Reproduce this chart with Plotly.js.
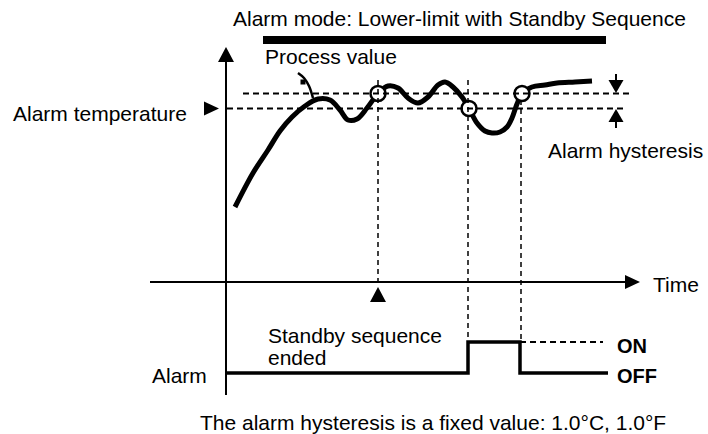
<!DOCTYPE html>
<html>
<head>
<meta charset="utf-8">
<script src="https://cdn.plot.ly/plotly-3.0.1.min.js"></script>
<style>
  html, body { margin: 0; padding: 0; background: #fff; }
  #chart { width: 708px; height: 434px; }
</style>
</head>
<body>
<div id="chart"></div>
<script>
// Process value over time (diagram units: time to the right, value upward on a flipped scale)
const pvTime  = [235, 253, 268, 280, 292, 305, 318, 330, 340, 348, 357, 367, 378, 388, 398, 408, 418, 428, 438, 445, 453, 462, 469, 477, 485, 492, 500, 507, 512, 517, 522, 532, 545, 557, 575, 592];
const pvValue = [207, 173, 150, 131, 117, 106, 99, 100, 110, 120, 119, 108, 93.5, 86, 88, 98, 103, 97, 85, 82, 87, 97, 108.5, 123, 131, 133, 132, 127, 118, 104, 93.5, 87, 85, 83, 82, 81];

// Alarm set point and hysteresis band
const alarmTemp = 108.5;
const alarmUpper = 93.5;

// Points where the process value crosses the band
const crossTime  = [378, 469, 522];
const crossValue = [93.5, 108.5, 93.5];

// Alarm output (OFF/ON levels)
const alarmTime  = [226, 468, 468, 520, 520, 608];
const alarmLevel = [373, 373, 342, 342, 373, 373];
const levelOn = 342, levelOff = 373;

// Leader line from the "Process value" label to the curve
const leaderTime  = [298, 304, 309, 313];
const leaderValue = [73, 78, 86, 98];

// Axes of the diagram
const timeAxisY = 282, valueAxisX = 226;
const standbyEnd = 378;

const FONT = '"Liberation Sans", Arial, Helvetica, sans-serif';
const INK = '#000';

function tri(cx, cy, dir, w, h) {
  let p;
  if (dir === 'up')    p = [[cx - w/2, cy + h/2], [cx + w/2, cy + h/2], [cx, cy - h/2]];
  if (dir === 'down')  p = [[cx - w/2, cy - h/2], [cx + w/2, cy - h/2], [cx, cy + h/2]];
  if (dir === 'right') p = [[cx - w/2, cy - h/2], [cx - w/2, cy + h/2], [cx + w/2, cy]];
  const d = 'M' + p.map(q => q[0] + ',' + q[1]).join('L') + 'Z';
  return { type: 'path', path: d, xref: 'x', yref: 'y', fillcolor: INK, line: { width: 0 } };
}
function seg(x0, y0, x1, y1, width, dash) {
  return { type: 'line', xref: 'x', yref: 'y', x0, y0, x1, y1,
           line: { color: INK, width, dash: dash || 'solid' } };
}

const shapes = [
  // heading bar
  { type: 'rect', xref: 'x', yref: 'y', x0: 263, x1: 606, y0: 36, y1: 44, fillcolor: INK, line: { width: 0 } },
  // value axis and arrow
  seg(valueAxisX, 395, valueAxisX, 60, 2),
  tri(valueAxisX, 54.5, 'up', 16, 15),
  // time axis and arrow
  seg(150, timeAxisY, 627, timeAxisY, 2),
  tri(632.5, timeAxisY, 'right', 15, 14),
  // hysteresis band
  seg(243, alarmUpper, 632, alarmUpper, 1.8, '6px,4px'),
  seg(227, alarmTemp, 625, alarmTemp, 1.8, '6px,4px'),
  // vertical guides
  seg(crossTime[0], 80, crossTime[0], timeAxisY, 1.5, '5px,4px'),
  seg(crossTime[1] - 1, 80, crossTime[1] - 1, levelOn, 1.5, '5px,4px'),
  seg(crossTime[2] - 1, 100, crossTime[2] - 1, levelOn, 1.5, '5px,4px'),
  // ON level continuation
  seg(520, levelOn, 603, levelOn, 1.8, '6px,4px'),
  // set-point marker and standby-end marker
  tri(211.5, alarmTemp, 'right', 15, 14),
  tri(standbyEnd, 294.5, 'up', 16, 15),
  // hysteresis dimension arrows
  seg(616, 74, 616, 86, 2),
  tri(616, 86.5, 'down', 15, 13),
  seg(616, 117, 616, 128, 2),
  tri(616, 115.5, 'up', 15, 13)
];

const traces = [
  { x: pvTime, y: pvValue, mode: 'lines', line: { color: INK, width: 5, shape: 'spline', smoothing: 1 }, hoverinfo: 'skip' },
  { x: leaderTime, y: leaderValue, mode: 'lines', line: { color: INK, width: 2.5, shape: 'spline' }, hoverinfo: 'skip' },
  { x: [303], y: [82], mode: 'markers', marker: { symbol: 'square', size: 5, color: INK }, hoverinfo: 'skip' },
  { x: crossTime, y: crossValue, mode: 'markers',
    marker: { symbol: 'circle', size: 15, color: '#fff', line: { color: INK, width: 2.5 } }, hoverinfo: 'skip' },
  { x: alarmTime, y: alarmLevel, mode: 'lines', line: { color: INK, width: 3.5 }, hoverinfo: 'skip' }
];

function label(text, x, y, opts) {
  return Object.assign({ text, x, y, xref: 'x', yref: 'y', showarrow: false,
    xanchor: 'left', yanchor: 'middle', font: { family: FONT, size: 21, color: INK } }, opts || {});
}

const annotations = [
  label('Alarm mode: Lower-limit with Standby Sequence', 231, 18),
  label('Process value', 263, 56),
  label('Alarm temperature', 11, 113),
  label('Alarm hysteresis', 546, 150),
  label('Time', 651, 284),
  label('Standby sequence', 266, 335),
  label('ended', 266, 357),
  label('Alarm', 150, 375),
  label('<b>ON</b>', 615, 346, { font: { family: FONT, size: 20, color: INK } }),
  label('<b>OFF</b>', 615, 376, { font: { family: FONT, size: 20, color: INK } }),
  label('The alarm hysteresis is a fixed value: 1.0°C, 1.0°F', 198, 422)
];

const layout = {
  width: 708, height: 434,
  margin: { l: 0, r: 0, t: 0, b: 0 },
  paper_bgcolor: '#fff', plot_bgcolor: '#fff',
  showlegend: false,
  xaxis: { range: [0, 708], visible: false, fixedrange: true },
  yaxis: { range: [434, 0], visible: false, fixedrange: true },
  shapes, annotations
};

Plotly.newPlot('chart', traces, layout, { staticPlot: true, displayModeBar: false });
</script>
</body>
</html>
